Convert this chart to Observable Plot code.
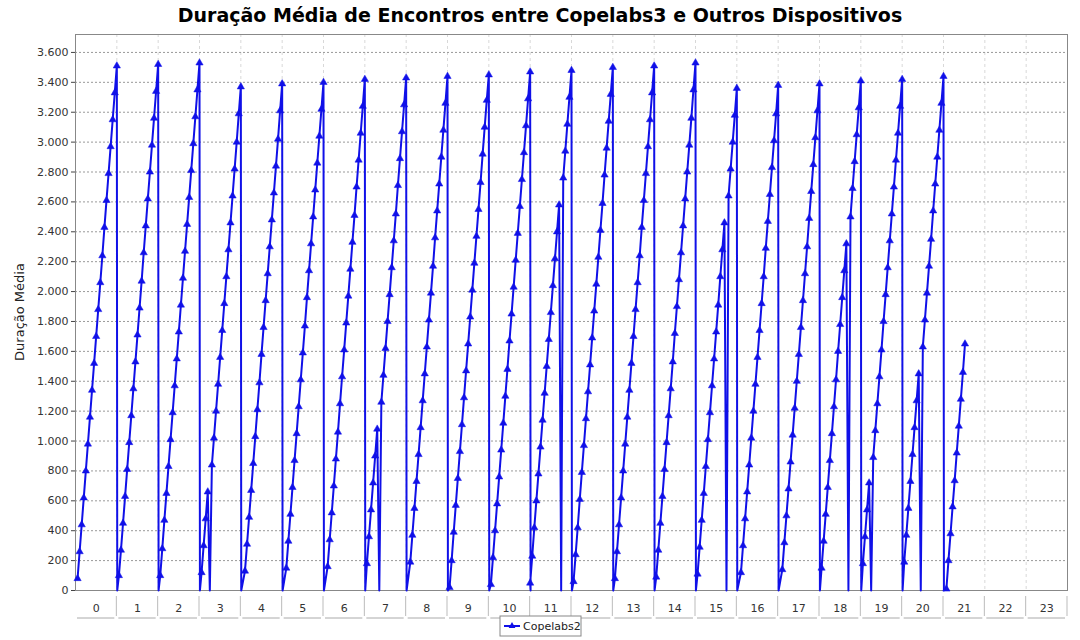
<!DOCTYPE html>
<html>
<head>
<meta charset="utf-8">
<script src="https://cdn.jsdelivr.net/npm/d3@7"></script>
<script src="https://cdn.jsdelivr.net/npm/@observablehq/plot@0.6"></script>
<style>
  body { margin: 0; background: #fff; font-family: "DejaVu Sans", sans-serif; }
  #titulo { height: 34px; line-height: 30px; text-align: center; font-weight: bold; font-size: 19px; color: #000; }
</style>
</head>
<body>
<div id="titulo">Duração Média de Encontros entre Copelabs3 e Outros Dispositivos</div>
<div id="grafico"></div>
<script>
// horas (categorias do eixo x)
const horas = d3.range(0, 24);

// valores de cada ciclo (um ciclo por hora); 0 = queda isolada
const ciclos = [
  [80,260,440,620,800,980,1160,1340,1520,1700,1880,2060,2240,2430,2610,2790,2970,3150,3330,3510],
  [100,270,450,630,810,990,1170,1350,1530,1710,1890,2070,2260,2440,2620,2800,2980,3160,3340,3520],
  [100,280,470,650,830,1010,1190,1370,1550,1730,1910,2090,2270,2450,2630,2810,2990,3170,3350,3530],
  [120,300,480,660,0,840,1020,1200,1380,1560,1740,1920,2100,2280,2460,2640,2820,3000,3190,3370],
  [130,310,490,670,850,1030,1210,1390,1580,1760,1940,2120,2300,2480,2660,2840,3020,3210,3390],
  [150,330,510,690,870,1050,1230,1410,1590,1770,1960,2140,2320,2500,2680,2860,3040,3220,3400],
  [160,340,520,700,880,1060,1250,1430,1610,1790,1970,2150,2330,2510,2700,2880,3060,3240,3420],
  [180,360,540,720,900,1080,0,1260,1440,1620,1800,1980,2160,2340,2520,2710,2890,3070,3250,3430],
  [190,370,550,730,910,1090,1270,1450,1630,1810,1990,2170,2360,2540,2720,2900,3080,3260,3440],
  [20,200,390,570,750,930,1110,1290,1470,1650,1830,2010,2190,2370,2550,2730,2920,3100,3280,3450],
  [40,220,400,580,760,940,1120,1300,1480,1670,1850,2030,2210,2390,2570,2750,2930,3110,3290,3470],
  [50,230,420,600,780,960,1140,1320,1500,1680,1860,2040,2220,2400,2580,0,2760,2940,3120,3300,3480],
  [60,240,420,610,790,970,1150,1330,1510,1690,1870,2050,2230,2410,2590,2780,2960,3140,3320,3500],
  [80,260,440,620,800,980,1160,1340,1520,1700,1880,2060,2240,2430,2610,2790,2970,3150,3330,3510],
  [90,270,450,630,810,990,1170,1350,1530,1720,1900,2080,2260,2440,2620,2800,2980,3160,3350,3530],
  [110,290,470,650,830,1010,1190,1370,1550,1730,1910,2100,2280,2460,0,2640,2820,3000,3180,3360],
  [120,300,480,660,840,1020,1200,1380,1560,1740,1920,2100,2290,2470,2650,2830,3010,3190,3380],
  [140,320,500,680,860,1040,1220,1400,1580,1760,1940,2120,2300,2490,2670,2850,3030,3210,3390],
  [150,330,510,690,870,1050,1230,1410,1600,1780,1960,2140,2320,0,2500,2690,2870,3050,3230,3410],
  [180,360,540,720,0,890,1070,1250,1430,1610,1800,1980,2160,2340,2520,2700,2880,3060,3240,3420],
  [190,370,550,730,910,1090,1270,1450,0,1630,1810,1990,2170,2350,2540,2720,2900,3080,3260,3440],
  [10,200,380,560,735,920,1100,1280,1460,1650]
];

const yTicks = d3.range(0, 3601, 200);
const passo = 0.05; // 3 minutos entre amostras

// cada ciclo completo termina no pico em c+0.5; o último começa em 20.57
const pontos = [];
ciclos.forEach((vals, c) => {
  const completo = c < ciclos.length - 1;
  const inicio = completo ? c + 0.5 - (vals.length - 1) * passo : 20.57;
  vals.forEach((v, i) => pontos.push({ x: inicio + i * passo, y: v }));
  if (completo) pontos.push({ x: inicio + (vals.length - 1) * passo + 0.01, y: 0 });
});

const fmt = d3.formatLocale({ decimal: ",", thousands: ".", grouping: [3], currency: ["", ""] }).format(",d");
const azul = "#1010e8";

const plot = Plot.plot({
  width: 1080,
  height: 606,
  marginLeft: 75,
  marginRight: 13,
  marginTop: 0,
  marginBottom: 50,
  style: { fontFamily: "DejaVu Sans, sans-serif", fontSize: "11px", color: "#444", background: "#fff" },
  x: { domain: [-0.5, 23.5] },
  y: { domain: [0, 3720] },
  marks: [
    Plot.gridX(horas.map((h) => h + 0.5), { stroke: "#d8d8d8", strokeOpacity: 1, strokeDasharray: "3 3" }),
    Plot.gridY(yTicks, { stroke: "#999", strokeOpacity: 1, strokeDasharray: "2 2" }),
    Plot.frame({ stroke: "#888" }),
    Plot.axisY(yTicks, { tickFormat: fmt, tickSize: 4, tickPadding: 3, label: null, fill: "#333", fontSize: 11 }),
    Plot.axisX(horas, { tickSize: 0, tickPadding: 14, label: null, fill: "#333", fontSize: 11 }),
    Plot.line(pontos, { x: "x", y: "y", stroke: azul, strokeWidth: 2 }),
    Plot.dot(pontos.filter((d) => d.y > 0), { x: "x", y: "y", symbol: "triangle", r: 2.7, fill: azul, stroke: azul, strokeWidth: 0.5 })
  ]
});

// separadores das categorias, legenda e título do eixo y
const sx = plot.scale("x"), svg = d3.select(plot);
const yBase = 556;
horas.forEach((h) => {
  const a = sx.apply(h - 0.5) + 2, b = sx.apply(h + 0.5) - 2;
  svg.append("line").attr("x1", a).attr("x2", b).attr("y1", yBase + 28).attr("y2", yBase + 28).attr("stroke", "#aaa");
  svg.append("line").attr("x1", b + 2).attr("x2", b + 2).attr("y1", yBase + 6).attr("y2", yBase + 26).attr("stroke", "#bbb");
});
svg.append("text").attr("transform", "translate(24,278) rotate(-90)").attr("text-anchor", "middle")
  .attr("font-size", 13).attr("fill", "#222").text("Duração Média");
const lg = svg.append("g").attr("transform", "translate(500,582)");
lg.append("rect").attr("width", 81).attr("height", 20).attr("fill", "#fff").attr("stroke", "#888");
lg.append("line").attr("x1", 4).attr("x2", 20).attr("y1", 10).attr("y2", 10).attr("stroke", azul).attr("stroke-width", 2);
lg.append("path").attr("d", d3.symbol(d3.symbolTriangle, 20)()).attr("transform", "translate(12,10)").attr("fill", azul);
lg.append("text").attr("x", 23).attr("y", 14).attr("text-anchor", "start")
  .attr("font-size", 11).attr("fill", "#222").text("Copelabs2");

document.getElementById("grafico").appendChild(plot);
</script>
</body>
</html>
